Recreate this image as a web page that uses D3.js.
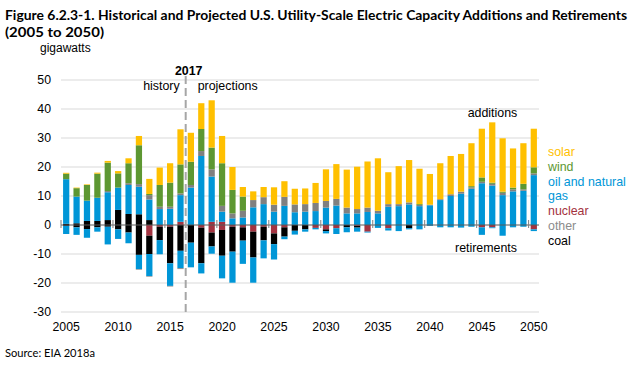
<!DOCTYPE html>
<html><head><meta charset="utf-8">
<script src="https://cdn.jsdelivr.net/npm/d3@7"></script>
<style>body{margin:0;background:#fff}svg{display:block}</style>
</head><body><svg id="c" width="640" height="365"></svg>
<script>
const years = [2005,2006,2007,2008,2009,2010,2011,2012,2013,2014,2015,2016,2017,2018,2019,2020,2021,2022,2023,2024,2025,2026,2027,2028,2029,2030,2031,2032,2033,2034,2035,2036,2037,2038,2039,2040,2041,2042,2043,2044,2045,2046,2047,2048,2049,2050];
const xTickLabels = ["2005","2010","2015","2020","2025","2030","2035","2040","2045","2050"];
const yTicks = [-30,-20,-10,0,10,20,30,40,50];

// additions (gigawatts)
const nuclearAdd = [0,0,0,0,0,0,0,0,0,0,0,1.1,0,0,1.1,1.1,0,0,0,0,0,0,0,0,0,0,0,0,0,0,0,0,0,0,0,0,0,0,0,0,0,0,0,0,0,0];
const coalAdd    = [0.4,0.6,1.4,1.4,1.7,5.2,3.8,3.7,1.7,0,0,0,0,0,0,0,0,0,0,0,0,0,0,0,0,0,0,0,0,0,0,0,0,0,0,0,0,0,0,0,0,0,0,0,0,0];
const gasAdd     = [15.4,9.2,7.0,8.0,9.6,7.7,10.0,9.5,7.1,5.5,5.6,9.2,12.9,23.8,15.6,3.5,2.3,2.6,6.1,7.2,4.6,6.6,4.4,4.6,4.8,6.0,6.7,4.0,4.0,4.5,4.0,6.3,6.5,7.1,6.5,6.8,8.6,10.0,10.8,12.5,14.4,13.6,10.3,11.6,11.8,17.2];
const otherAdd   = [0,0,0,0,0.4,0,0.6,0.9,1.5,0.8,0.7,0.6,0.9,1.7,2.5,2.0,1.7,2.3,2.5,2.4,2.4,3.1,2.7,2.6,2.8,2.3,2.3,2.0,1.5,1.5,0.9,0.9,0.7,0.7,0.4,0.2,0.3,0.6,0.7,0.5,0.5,0.6,0.8,0.7,0.5,0.6];
const windAdd    = [1.9,2.9,5.4,8.3,9.8,4.9,6.9,13.4,0.4,7.5,8.3,10.0,8.0,7.6,7.5,14.7,8.1,4.9,0,0,0,0,0,0,0,0,0,0,0,0,0,0,0,0,0.3,0,0,0,0,0.4,1.5,0.4,0.4,0.6,1.9,2.1];
const solarAdd   = [0.3,0.2,0.2,0.35,0.6,0.8,1.7,3.2,5.2,6.0,6.7,12.1,10.0,8.9,16.3,9.4,7.9,3.3,3.0,3.5,6.0,5.4,5.4,5.4,6.9,10.9,12.0,13.1,14.6,15.9,18.1,11.0,13.1,14.6,12.2,10.6,12.4,13.2,13.0,14.8,16.8,20.8,18.4,13.5,14.0,13.3];
// retirements (gigawatts, negative)
const nuclearRet = [0,0,0,0,0,0,0,0,-3.7,-0.6,-0.6,0,0,-0.9,-2.6,-1.7,-0.6,-0.8,-2.3,-0.6,-2.9,-0.8,0,0,-1.0,-1.5,-1.1,0,-0.3,-2.3,0,-1.1,0,0,0,0,0,0,0,0,-0.8,-0.8,0,0,0,-1.5];
const coalRet    = [-0.3,-0.8,-1.4,-0.8,-0.6,-1.5,-2.6,-10.3,-6.3,-4.6,-12.6,-8.9,-6.1,-12.3,-4.8,-8.9,-8.6,-4.6,-8.9,-4.7,-3.7,-3.2,-2.0,-1.5,0,-0.6,0,-0.8,-0.6,0,0,0,0,-1.1,0,0,0,0,0,0,0,0,0,0,0,0];
const gasRet     = [-2.8,-2.6,-3.0,-1.5,-6.1,-3.3,-3.7,-4.9,-7.6,-4.9,-7.8,-6.0,-8.5,-3.5,-2.5,-7.8,-10.7,-8.0,-8.7,-6.2,-5.3,-0.9,-1.3,-0.8,-0.5,-0.8,-2.0,-1.7,-1.4,-0.3,-1.0,-0.8,-2.1,-0.4,-1.5,-0.3,-0.8,-0.8,-0.9,-0.6,-2.6,-0.3,-3.7,-0.8,-0.6,-0.6];
const otherRet   = [0,0,0,0,0,0,0,-0.2,-0.2,0,-0.2,-0.3,0,0,0,0,0,0,0,0,0,0,0,0,0,0,0,0,0,0,0,0,0,0,0,0,0,0,0,0,0,0,0,0,0,0];

const legendNames = ["solar","wind","oil and natural","gas","nuclear","other","coal"];
const legendColors = ["#FFC000","#5D9732","#0096D7","#0096D7","#A33340","#8C8C8C","#000000"];

const seriesColor = {nucAdd:"#A33340",coalAdd:"#000000",gasAdd:"#0096D7",otherAdd:"#808080",windAdd:"#5D9732",solarAdd:"#FFC000",
  nucRet:"#A33340",coalRet:"#000000",gasRet:"#0096D7",otherRet:"#808080"};
const keys = ["nucAdd","coalAdd","gasAdd","otherAdd","windAdd","solarAdd","nucRet","coalRet","gasRet","otherRet"];

const rows = years.map((yr,i)=>({year:yr,nucAdd:nuclearAdd[i],coalAdd:coalAdd[i],gasAdd:gasAdd[i],otherAdd:otherAdd[i],windAdd:windAdd[i],solarAdd:solarAdd[i],
  nucRet:nuclearRet[i],coalRet:coalRet[i],gasRet:gasRet[i],otherRet:otherRet[i]}));

const svg = d3.select("#c");
const font = "'Liberation Sans', Arial, sans-serif";
const x = d3.scaleBand().domain(years).range([61,539]).paddingInner(0.4).paddingOuter(0.2);
const y = d3.scaleLinear().domain([-30,50]).range([312,80]);

// title
svg.append("text").attr("x",5).attr("y",19.5).attr("font-family","Lato, 'Open Sans', sans-serif").attr("font-weight","bold")
  .attr("font-size",13.5).attr("textLength",622).attr("lengthAdjust","spacingAndGlyphs")
  .text("Figure 6.2.3-1. Historical and Projected U.S. Utility-Scale Electric Capacity Additions and Retirements");
svg.append("text").attr("x",5).attr("y",37).attr("font-family","Lato, 'Open Sans', sans-serif").attr("font-weight","bold")
  .attr("font-size",14).attr("textLength",99).attr("lengthAdjust","spacingAndGlyphs").text("(2005 to 2050)");
svg.append("text").attr("x",5).attr("y",357).attr("font-family","Lato, 'Open Sans', sans-serif")
  .attr("font-size",12).attr("textLength",90).attr("lengthAdjust","spacingAndGlyphs").text("Source: EIA 2018a");

svg.append("text").attr("x",40).attr("y",52).attr("font-family",font).attr("font-size",12).text("gigawatts");

// gridlines
svg.append("g").selectAll("line").data(yTicks.filter(t=>t!==0)).join("line")
  .attr("x1",61).attr("x2",539).attr("y1",d=>y(d)).attr("y2",d=>y(d)).attr("stroke","#D9D9D9").attr("stroke-width",1);

// y labels
svg.append("g").selectAll("text").data(yTicks).join("text")
  .attr("x",51).attr("y",d=>y(d)+4.4).attr("text-anchor","end").attr("font-family",font).attr("font-size",12.3).text(d=>d);

// bars
const stacked = d3.stack().keys(keys).offset(d3.stackOffsetDiverging)(rows);
svg.append("g").selectAll("g").data(stacked).join("g").attr("fill",s=>seriesColor[s.key])
  .selectAll("rect").data(s=>s.filter(d=>d[1]!==d[0])).join("rect")
  .attr("x",d=>x(d.data.year)).attr("width",x.bandwidth())
  .attr("y",d=>y(d[1])).attr("height",d=>y(d[0])-y(d[1]));

// zero axis line and ticks
svg.append("line").attr("x1",61).attr("x2",539).attr("y1",y(0)).attr("y2",y(0)).attr("stroke","#595959").attr("stroke-width",1);
const tickYears = xTickLabels.map(Number);
svg.append("g").selectAll("line").data(tickYears).join("line")
  .attr("x1",d=>x(d)-x.step()*x.paddingInner()/2).attr("x2",d=>x(d)-x.step()*x.paddingInner()/2)
  .attr("y1",y(0)-5).attr("y2",y(0)+3).attr("stroke","#808080").attr("stroke-width",1);

// x labels
svg.append("g").selectAll("text").data(xTickLabels).join("text")
  .attr("x",d=>x(+d)+x.bandwidth()/2).attr("y",330.5).attr("text-anchor","middle")
  .attr("font-family",font).attr("font-size",12.3).text(d=>d);

// 2017 divider
const dx = x(2017)-x.step()*x.paddingInner()/2;
svg.append("line").attr("x1",dx).attr("x2",dx).attr("y1",76).attr("y2",312)
  .attr("stroke","#A6A6A6").attr("stroke-width",2).attr("stroke-dasharray","8,4");
svg.append("text").attr("x",dx+3).attr("y",74.5).attr("text-anchor","middle").attr("font-family",font)
  .attr("font-weight","bold").attr("font-size",12.4).text("2017");
svg.append("text").attr("x",dx-6).attr("y",89.5).attr("text-anchor","end").attr("font-family",font).attr("font-size",12.4).text("history");
svg.append("text").attr("x",dx+12).attr("y",89.5).attr("font-family",font).attr("font-size",12.4).text("projections");

svg.append("text").attr("x",492.5).attr("y",117).attr("text-anchor","middle").attr("font-family",font).attr("font-size",12.4).text("additions");
svg.append("text").attr("x",486).attr("y",251.5).attr("text-anchor","middle").attr("font-family",font).attr("font-size",12.4).text("retirements");

// legend
svg.append("g").selectAll("text").data(legendNames).join("text")
  .attr("x",548).attr("y",(d,i)=>156+i*14.8).attr("font-family",font).attr("font-size",12.4)
  .attr("fill",(d,i)=>legendColors[i]).text(d=>d);
</script></body></html>
